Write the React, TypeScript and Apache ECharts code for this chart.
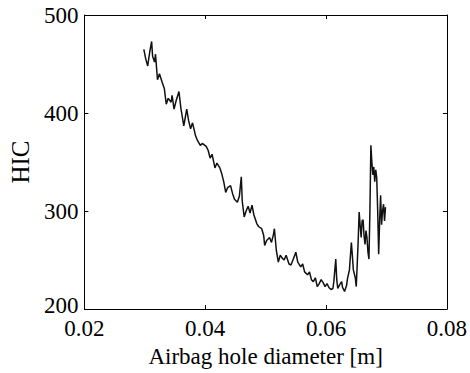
import React, { useEffect, useRef } from "react";
import * as echarts from "echarts";

const diameter: number[] = [
  0.02984, 0.03016, 0.03048, 0.03081, 0.03113, 0.03129, 0.03161, 0.03177, 0.0321, 0.03242,
  0.0329, 0.03323, 0.03355, 0.03387, 0.03435, 0.03452, 0.03484, 0.03516, 0.03565, 0.03597,
  0.03645, 0.03677, 0.03694, 0.03726, 0.03758, 0.0379, 0.03839, 0.03871, 0.03919, 0.03952,
  0.04016, 0.04048, 0.04081, 0.04113, 0.04161, 0.04194, 0.04242, 0.04274, 0.04306, 0.04339,
  0.04371, 0.04419, 0.04452, 0.04484, 0.04532, 0.04565, 0.04597, 0.04613, 0.04645, 0.04677,
  0.0471, 0.04742, 0.04774, 0.04806, 0.04855, 0.04887, 0.04935, 0.04968, 0.04984, 0.05016,
  0.05065, 0.05097, 0.05129, 0.05145, 0.05177, 0.0521, 0.05242, 0.05274, 0.05306, 0.05339,
  0.05387, 0.05419, 0.05452, 0.055, 0.05532, 0.05581, 0.05613, 0.05645, 0.05694, 0.05726,
  0.05758, 0.0579, 0.05823, 0.05855, 0.05887, 0.05919, 0.05952, 0.05984, 0.06016, 0.06048,
  0.06081, 0.06113, 0.06129, 0.06161, 0.06177, 0.06194, 0.06226, 0.06258, 0.06274, 0.06306,
  0.06339, 0.06355, 0.06387, 0.06419, 0.06435, 0.06452, 0.06484, 0.065, 0.06516, 0.06532,
  0.06548, 0.06565, 0.06581, 0.06597, 0.06613, 0.06629, 0.06645, 0.06661, 0.06677, 0.06694,
  0.0671, 0.06726, 0.06742, 0.06758, 0.06774, 0.0679, 0.06806, 0.06823, 0.06839, 0.06855,
  0.06871, 0.06887, 0.06903, 0.06919, 0.06935, 0.06952, 0.06968, 0.06984,
];

const hic: number[] = [
  465, 455, 448, 462, 473, 458, 452, 460, 434, 440,
  431, 425, 409, 415, 411, 418, 404, 412, 422, 405,
  387, 398, 404, 392, 384, 390, 377, 372, 367, 369,
  366, 362, 354, 358, 344, 349, 344, 338, 330, 319,
  324, 326, 318, 312, 309, 315, 335, 310, 294, 300,
  305, 298, 306, 296, 287, 284, 282, 275, 265, 270,
  273, 268, 276, 282, 260, 248, 255, 252, 250, 255,
  246, 245, 250, 258, 248, 243, 246, 238, 235, 238,
  230, 228, 232, 223, 226, 230, 227, 223, 226, 222,
  220, 221, 228, 251, 230, 221, 225, 228, 222, 218,
  224, 231, 240, 268, 255, 240, 232, 223, 246, 270,
  299, 285, 273, 290, 291, 275, 266, 280, 273, 258,
  251, 300, 367, 350, 337, 345, 330, 342, 334, 300,
  256, 290, 316, 286, 300, 307, 290, 304,
];

const xTicks = [0.02, 0.04, 0.06, 0.08];
const yTicks = [200, 300, 400, 500];

const FONT = "'Liberation Serif', 'DejaVu Serif', serif";

export default function App() {
  const ref = useRef<HTMLDivElement>(null);
  useEffect(() => {
    if (!ref.current) return;
    const chart = echarts.init(ref.current, undefined, { renderer: "svg" });
    const axisLine = { show: true, lineStyle: { color: "#000", width: 1 } };
    const tick = { show: true, inside: true, length: 4, lineStyle: { color: "#000" } };
    const labelRich = {
      t: { fontFamily: FONT, fontSize: 23, color: "#000" },
      low: { fontFamily: FONT, fontSize: 23, color: "#000", padding: [0, 0, 8, 0] },
    };
    chart.setOption({
      animation: false,
      backgroundColor: "#fff",
      textStyle: { fontFamily: FONT, color: "#000" },
      grid: { left: 78, right: 20, top: 15, bottom: 60 },
      xAxis: [
        {
          type: "value",
          min: 0.02,
          max: 0.08,
          interval: 0.02,
          axisLine,
          axisTick: tick,
          splitLine: { show: false },
          axisLabel: {
            color: "#000",
            fontFamily: FONT,
            fontSize: 23,
            margin: 8,
            formatter: (v: number) => {
              const t = xTicks.find((k) => Math.abs(k - v) < 1e-9);
              return t !== undefined ? "{t|" + t.toFixed(2) + "}" : "";
            },
            rich: labelRich,
          },
          name: "Airbag hole diameter [m]",
          nameLocation: "middle",
          nameGap: 35,
          nameTextStyle: { color: "#000", fontFamily: FONT, fontSize: 23, verticalAlign: "top" },
        },
        {
          type: "value",
          position: "top",
          min: 0.02,
          max: 0.08,
          interval: 0.02,
          axisLine,
          axisTick: tick,
          splitLine: { show: false },
          axisLabel: { show: false },
        },
      ],
      yAxis: [
        {
          type: "value",
          min: 200,
          max: 500,
          interval: 100,
          axisLine,
          axisTick: tick,
          splitLine: { show: false },
          axisLabel: {
            color: "#000",
            fontFamily: FONT,
            fontSize: 23,
            margin: 6,
            formatter: (v: number) =>
              yTicks.includes(v) ? (v === 200 ? "{low|" + v + "}" : "{t|" + v + "}") : "",
            rich: labelRich,
          },
          name: "HIC",
          nameLocation: "middle",
          nameGap: 43,
          nameTextStyle: { color: "#000", fontFamily: FONT, fontSize: 25 },
        },
        {
          type: "value",
          position: "right",
          min: 200,
          max: 500,
          interval: 100,
          axisLine,
          axisTick: tick,
          splitLine: { show: false },
          axisLabel: { show: false },
        },
      ],
      series: [
        {
          type: "line",
          data: diameter.map((d, i) => [d, hic[i]]),
          showSymbol: false,
          symbol: "none",
          lineStyle: { color: "#111", width: 1.5 },
          xAxisIndex: 0,
          yAxisIndex: 0,
        },
      ],
    });
    return () => chart.dispose();
  }, []);
  return <div ref={ref} style={{ width: 470, height: 373, position: "absolute", left: 0, top: 0 }} />;
}
